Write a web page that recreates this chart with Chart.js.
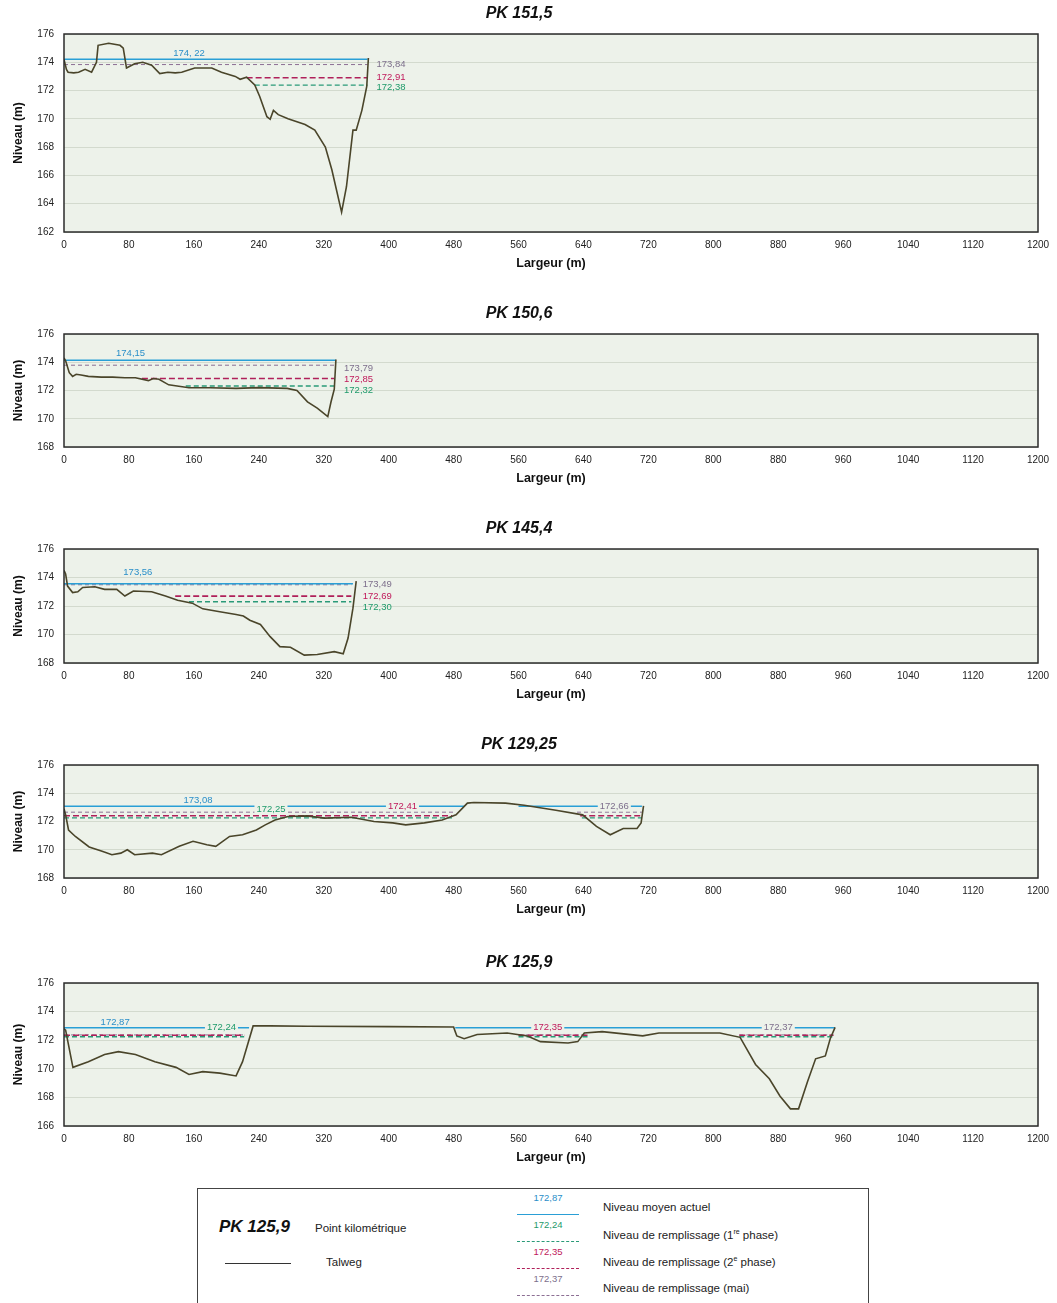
<!DOCTYPE html>
<html>
<head>
<meta charset="utf-8">
<script src="https://cdn.jsdelivr.net/npm/chart.js@4.4.0/dist/chart.umd.min.js"></script>
<style>
  body { margin: 0; background: #fff; font-family: "Liberation Sans", Arial, sans-serif; }
  #page { position: relative; width: 1057px; height: 1303px; overflow: hidden; }
  .plot { position: absolute; left: 0; }
  #legend { position: absolute; left: 197px; top: 1188px; width: 670px; height: 140px; border: 1px solid #444; background: #fff; color: #222; }
  #legend div { position: absolute; white-space: nowrap; }
  .pk { font-size: 17px; font-weight: bold; font-style: italic; color: #111; }
  .txt { font-size: 11.5px; }
  .num { font-size: 9.5px; width: 62px; text-align: center; }
  .smp { width: 62px; height: 0; }
</style>
</head>
<body>
<div id="page">
  <canvas id="c1" class="plot" style="top:0px" width="1057" height="276"></canvas>
  <canvas id="c2" class="plot" style="top:300px" width="1057" height="191"></canvas>
  <canvas id="c3" class="plot" style="top:515px" width="1057" height="192"></canvas>
  <canvas id="c4" class="plot" style="top:731px" width="1057" height="191"></canvas>
  <canvas id="c5" class="plot" style="top:949px" width="1057" height="221"></canvas>

  <div id="legend">
    <div class="pk" style="left:21px; top:28px;">PK 125,9</div>
    <div class="txt" style="left:117px; top:33px;">Point kilométrique</div>
    <div class="smp" style="left:27px; top:74px; width:66px; border-top:1.5px solid #333;"></div>
    <div class="txt" style="left:128px; top:67px;">Talweg</div>

    <div class="num" style="left:319px; top:3px; color:#2a8fc9;">172,87</div>
    <div class="smp" style="left:319px; top:25px; border-top:1.5px solid #2a9fd6;"></div>
    <div class="txt" style="left:405px; top:12px;">Niveau moyen actuel</div>

    <div class="num" style="left:319px; top:30px; color:#1e9a6a;">172,24</div>
    <div class="smp" style="left:319px; top:52px; border-top:1.5px dashed #2a9a78;"></div>
    <div class="txt" style="left:405px; top:39px;">Niveau de remplissage (1<sup style="font-size:7px">re</sup> phase)</div>

    <div class="num" style="left:319px; top:57px; color:#c0185a;">172,35</div>
    <div class="smp" style="left:319px; top:79px; border-top:1.5px dashed #b0205a;"></div>
    <div class="txt" style="left:405px; top:66px;">Niveau de remplissage (2<sup style="font-size:7px">e</sup> phase)</div>

    <div class="num" style="left:319px; top:84px; color:#7d6f8c;">172,37</div>
    <div class="smp" style="left:319px; top:106px; border-top:1px dashed #8c6f94;"></div>
    <div class="txt" style="left:405px; top:93px;">Niveau de remplissage (mai)</div>
  </div>
</div>

<script>
// profil en travers : distances (m) et cotes du talweg (m)
const pk1515Dist = [0, 3, 5, 12, 18, 26, 34, 40, 42, 55, 69, 73, 77, 87, 97, 108, 118, 128, 137, 145, 161, 182, 194, 211, 217, 225, 235, 241, 250, 254, 258, 264, 276, 297, 309, 322, 330, 342, 348, 356, 360, 367, 373, 375];
const pk1515Z = [174.2, 173.5, 173.3, 173.25, 173.3, 173.5, 173.3, 174.0, 175.2, 175.35, 175.2, 175.0, 173.6, 173.9, 174.0, 173.8, 173.2, 173.3, 173.25, 173.3, 173.6, 173.6, 173.3, 173.0, 172.8, 172.95, 172.4, 171.6, 170.15, 169.97, 170.6, 170.3, 170.0, 169.6, 169.2, 168.0, 166.4, 163.4, 165.2, 169.2, 169.2, 170.6, 172.3, 174.3];

const pk1506Dist = [0, 2, 6.5, 10.6, 15, 21, 30, 46, 60, 75, 88, 104, 110, 117, 129, 154, 180, 212, 240, 275, 287, 300, 312, 325, 329, 333, 335];
const pk1506Z = [174.3, 174.1, 173.26, 173.0, 173.15, 173.1, 173.0, 172.95, 172.95, 172.9, 172.9, 172.7, 172.85, 172.8, 172.4, 172.2, 172.2, 172.15, 172.2, 172.15, 172.0, 171.2, 170.75, 170.15, 171.2, 172.1, 174.2];

const pk1454Dist = [0, 2, 4.4, 10.6, 17, 23, 38, 50, 65, 75, 85.5, 108, 125, 140, 158, 171, 192, 212, 221, 229, 242, 254, 266, 279, 296, 312, 333, 344, 350, 356, 360];
const pk1454Z = [174.5, 174.25, 173.4, 172.94, 173.0, 173.3, 173.35, 173.17, 173.17, 172.7, 173.05, 173.0, 172.7, 172.4, 172.2, 171.8, 171.6, 171.4, 171.3, 171.0, 170.7, 169.85, 169.15, 169.1, 168.55, 168.6, 168.8, 168.65, 169.75, 171.85, 173.75];

const pk12925Dist = [0, 2, 5.6, 14, 31, 47, 59, 70, 78, 87, 109, 120, 142, 159, 176, 187, 204, 220, 237, 248, 260, 276, 299, 321, 354, 382, 405, 421, 444, 466, 483, 497, 505, 544, 567, 606, 639, 656, 673, 689, 706, 711, 714];
const pk12925Z = [172.9, 172.47, 171.4, 170.94, 170.2, 169.9, 169.65, 169.76, 170.0, 169.65, 169.76, 169.65, 170.24, 170.6, 170.35, 170.24, 170.94, 171.06, 171.4, 171.76, 172.1, 172.35, 172.4, 172.24, 172.3, 172.0, 171.9, 171.76, 171.9, 172.1, 172.47, 173.3, 173.35, 173.3, 173.15, 172.8, 172.47, 171.65, 171.06, 171.5, 171.5, 171.9, 173.1];

const pk1259Dist = [0, 2, 11, 30, 50, 67, 88, 112, 138, 154, 171, 192, 212, 220, 233, 254, 300, 400, 480, 482, 484, 493, 509, 546, 571, 587, 621, 633, 641, 663, 713, 733, 808, 833, 852, 869, 882, 895, 905, 916, 926, 938, 944, 950];
const pk1259Z = [172.8, 172.7, 170.1, 170.5, 171.0, 171.2, 171.0, 170.5, 170.1, 169.6, 169.8, 169.7, 169.5, 170.5, 173.0, 173.0, 172.98, 172.95, 172.92, 172.6, 172.3, 172.1, 172.4, 172.5, 172.3, 171.9, 171.8, 171.9, 172.5, 172.6, 172.3, 172.5, 172.5, 172.2, 170.3, 169.3, 168.1, 167.2, 167.2, 169.1, 170.7, 170.9, 172.1, 172.9];

// niveaux d'eau : actuel, 1re phase, 2e phase, mai
const pk1515Levels = [174.22, 172.38, 172.91, 173.84];
const pk1506Levels = [174.15, 172.32, 172.85, 173.79];
const pk1454Levels = [173.56, 172.30, 172.69, 173.49];
const pk12925Levels = [173.08, 172.25, 172.41, 172.66];
const pk1259Levels = [172.87, 172.24, 172.35, 172.37];

// etendue des lignes d'eau (m)
const pk1515Spans = [[[0, 374]], [[235, 374]], [[225, 374]], [[0, 374]]];
const pk1506Spans = [[[0, 335]], [[150, 333]], [[96, 333]], [[0, 333]]];
const pk1454Spans = [[[0, 356]], [[154, 354]], [[137, 354]], [[0, 354]]];
const pk12925Spans = [[[0, 494], [560, 712]], [[0, 478], [638, 712]], [[0, 478], [636, 712]], [[0, 480], [632, 712]]];
const pk1259Spans = [[[0, 228], [482, 950]], [[0, 222], [560, 645], [832, 948]], [[0, 222], [560, 645], [832, 948]], [[0, 222], [560, 645], [832, 948]]];

const levelColors = ['#2a9fd6', '#2a9a78', '#b0205a', '#8c6f94'];
const labelColors = ['#2a8fc9', '#1e9a6a', '#c0185a', '#7d6f8c'];
const levelDash = [[], [5, 3], [6, 3], [4, 3]];
const levelWidth = [1.5, 1.3, 1.6, 1];

function fmt(v) {
    return v.toFixed(2).replace('.', ',');
}

function levelPoints(value, spans) {
    const pts = [];
    spans.forEach(function(s, i) {
        if (i > 0) pts.push({ x: (spans[i - 1][1] + s[0]) / 2, y: null });
        pts.push({ x: s[0], y: value }, { x: s[1], y: value });
    });
    return pts;
}

const profileDecor = {
    id: 'profileDecor',
    beforeDraw(chart) {
        const a = chart.chartArea, ctx = chart.ctx;
        ctx.save();
        ctx.fillStyle = '#edf2ea';
        ctx.fillRect(a.left, a.top, a.right - a.left, a.bottom - a.top);
        ctx.restore();
    },
    afterDatasetsDraw(chart, args, opts) {
        const ctx = chart.ctx, xs = chart.scales.x, ys = chart.scales.y;
        ctx.save();
        ctx.font = '9.5px "Liberation Sans", Arial, sans-serif';
        ctx.textBaseline = 'middle';
        (opts.items || []).forEach(function(l) {
            const px = xs.getPixelForValue(l.x), py = ys.getPixelForValue(l.y);
            const w = ctx.measureText(l.text).width;
            ctx.textAlign = l.mode === 'right' ? 'left' : 'center';
            if (l.mode === 'inline') {
                ctx.fillStyle = '#edf2ea';
                ctx.fillRect(px - w / 2 - 2, py - 5, w + 4, 10);
            }
            ctx.fillStyle = l.color;
            ctx.fillText(l.text, px, py);
        });
        const a = chart.chartArea;
        ctx.strokeStyle = '#2b2b2b';
        ctx.lineWidth = 1.5;
        ctx.strokeRect(a.left, a.top, a.right - a.left, a.bottom - a.top);
        ctx.restore();
    }
};

function makeProfile(id, title, yMin, yMax, dist, z, levels, spans, labels) {
    const datasets = [{
        label: 'Talweg',
        data: dist.map(function(d, i) { return { x: d, y: z[i] }; }),
        borderColor: '#4a452a',
        borderWidth: 1.6,
        pointRadius: 0,
        tension: 0
    }];
    levels.forEach(function(v, i) {
        datasets.push({
            label: fmt(v),
            data: levelPoints(v, spans[i]),
            borderColor: levelColors[i],
            borderWidth: levelWidth[i],
            borderDash: levelDash[i],
            pointRadius: 0,
            spanGaps: false
        });
    });

    const ctx = document.getElementById(id).getContext('2d');
    new Chart(ctx, {
        type: 'line',
        data: { datasets: datasets },
        plugins: [profileDecor],
        options: {
            responsive: false,
            animation: false,
            layout: { padding: { left: 0, right: 19, top: 0, bottom: 0 } },
            plugins: {
                legend: { display: false },
                tooltip: { enabled: false },
                title: {
                    display: true,
                    text: title,
                    color: '#111',
                    font: { family: '"Liberation Sans", Arial, sans-serif', size: 16, weight: 'bold', style: 'italic' },
                    padding: { top: 4, bottom: 10.8 }
                },
                profileDecor: { items: labels }
            },
            scales: {
                x: {
                    type: 'linear',
                    min: 0,
                    max: 1200,
                    afterFit: function(scale) { scale.height = 44; },
                    grid: { display: false, drawTicks: false },
                    border: { display: false },
                    ticks: {
                        stepSize: 80,
                        autoSkip: false,
                        maxRotation: 0,
                        padding: 7,
                        color: '#222',
                        font: { family: '"Liberation Sans", Arial, sans-serif', size: 10 },
                        callback: function(v) { return String(v); }
                    },
                    title: {
                        display: true,
                        text: 'Largeur (m)',
                        color: '#111',
                        font: { family: '"Liberation Sans", Arial, sans-serif', size: 12.5, weight: 'bold' },
                        padding: { top: 0, bottom: 4.5 }
                    }
                },
                y: {
                    min: yMin,
                    max: yMax,
                    afterFit: function(scale) { scale.width = 64; },
                    grid: { color: '#d3dace', drawTicks: false },
                    border: { display: false },
                    ticks: {
                        stepSize: 2,
                        padding: 10,
                        color: '#222',
                        font: { family: '"Liberation Sans", Arial, sans-serif', size: 10 }
                    },
                    title: {
                        display: true,
                        text: 'Niveau (m)',
                        color: '#111',
                        font: { family: '"Liberation Sans", Arial, sans-serif', size: 12, weight: 'bold' },
                        padding: { top: 11, bottom: 0 }
                    }
                }
            }
        }
    });
}

function lab(text, x, y, k, mode) {
    return { text: text, x: x, y: y, color: labelColors[k], mode: mode };
}

makeProfile('c1', 'PK 151,5', 162, 176, pk1515Dist, pk1515Z, pk1515Levels, pk1515Spans, [
    lab('174, 22', 154, 174.62, 0, 'above'),
    lab(fmt(pk1515Levels[3]), 385, 173.84, 3, 'right'),
    lab(fmt(pk1515Levels[2]), 385, 172.95, 2, 'right'),
    lab(fmt(pk1515Levels[1]), 385, 172.2, 1, 'right')
]);

makeProfile('c2', 'PK 150,6', 168, 176, pk1506Dist, pk1506Z, pk1506Levels, pk1506Spans, [
    lab(fmt(pk1506Levels[0]), 82, 174.6, 0, 'above'),
    lab(fmt(pk1506Levels[3]), 345, 173.6, 3, 'right'),
    lab(fmt(pk1506Levels[2]), 345, 172.8, 2, 'right'),
    lab(fmt(pk1506Levels[1]), 345, 172.0, 1, 'right')
]);

makeProfile('c3', 'PK 145,4', 168, 176, pk1454Dist, pk1454Z, pk1454Levels, pk1454Spans, [
    lab(fmt(pk1454Levels[0]), 91, 174.35, 0, 'above'),
    lab(fmt(pk1454Levels[3]), 368, 173.5, 3, 'right'),
    lab(fmt(pk1454Levels[2]), 368, 172.7, 2, 'right'),
    lab(fmt(pk1454Levels[1]), 368, 171.9, 1, 'right')
]);

makeProfile('c4', 'PK 129,25', 168, 176, pk12925Dist, pk12925Z, pk12925Levels, pk12925Spans, [
    lab(fmt(pk12925Levels[0]), 165, 173.48, 0, 'above'),
    lab(fmt(pk12925Levels[1]), 255, 172.85, 1, 'inline'),
    lab(fmt(pk12925Levels[2]), 417, 173.08, 2, 'inline'),
    lab(fmt(pk12925Levels[3]), 678, 173.08, 3, 'inline')
]);

makeProfile('c5', 'PK 125,9', 166, 176, pk1259Dist, pk1259Z, pk1259Levels, pk1259Spans, [
    lab(fmt(pk1259Levels[0]), 63, 173.25, 0, 'above'),
    lab(fmt(pk1259Levels[1]), 194, 172.87, 1, 'inline'),
    lab(fmt(pk1259Levels[2]), 596, 172.87, 2, 'inline'),
    lab(fmt(pk1259Levels[3]), 880, 172.87, 3, 'inline')
]);
</script>
</body>
</html>
